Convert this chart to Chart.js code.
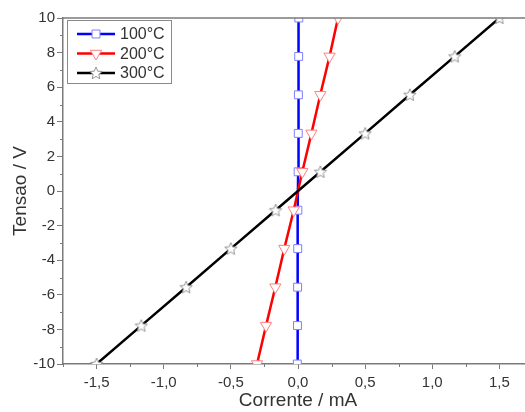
<!DOCTYPE html>
<html>
<head>
<meta charset="utf-8">
<script src="https://cdn.jsdelivr.net/npm/chart.js@4/dist/chart.umd.min.js"></script>
<style>
  html, body { margin: 0; padding: 0; background: #fff; overflow: hidden; }
  #cnt { width: 525px; height: 412px; overflow: hidden; }
</style>
</head>
<body>
<div id="cnt"><canvas id="iv_Chart" width="545" height="412"></canvas></div>
<script>
// tensao (V) e corrente (mA)
const voltage = [-10, -7.78, -5.56, -3.33, -1.11, 1.11, 3.33, 5.56, 7.78, 10];
const current100 = [-0.005, -0.004, -0.003, -0.002, -0.001, 0.001, 0.002, 0.003, 0.005, 0.006];
const current200 = [-0.305, -0.238, -0.169, -0.102, -0.032, 0.032, 0.100, 0.166, 0.235, 0.298];
const current300 = [-1.5, -1.167, -0.833, -0.5, -0.167, 0.167, 0.5, 0.833, 1.167, 1.5];
const seriesLabels = ['100°C', '200°C', '300°C'];

const xTicks = [-1.5, -1.0, -0.5, 0.0, 0.5, 1.0, 1.5];
const xMinor = [-1.75, -1.25, -0.75, -0.25, 0.25, 0.75, 1.25, 1.75];
const yTicks = [-10, -8, -6, -4, -2, 0, 2, 4, 6, 8, 10];
const yMinor = [-9, -7, -5, -3, -1, 1, 3, 5, 7, 9];

const AXIS = '#7a7a7a';
const TXT = '#333333';
const FONT = 'Arial, "Liberation Sans", sans-serif';

function pts(xs) {
  return xs.map((x, i) => ({ x: x, y: voltage[i] }));
}

// estrela de 5 pontas, contorno
function makeStar(r, color) {
  const c = document.createElement('canvas');
  const s = Math.ceil(r * 2 + 3);
  c.width = s; c.height = s;
  const g = c.getContext('2d');
  const cx = s / 2, cy = s / 2 + 0.5;
  g.beginPath();
  for (let i = 0; i < 10; i++) {
    const rr = i % 2 === 0 ? r : r * 0.45;
    const a = -Math.PI / 2 + i * Math.PI / 5;
    const px = cx + rr * Math.cos(a), py = cy + rr * Math.sin(a);
    if (i === 0) g.moveTo(px, py); else g.lineTo(px, py);
  }
  g.closePath();
  g.fillStyle = '#fff';
  g.fill();
  g.strokeStyle = color;
  g.lineWidth = 0.9;
  g.stroke();
  return c;
}
const starImg = makeStar(6.5, '#8a8a8a');

const minorTicks = {
  id: 'minorTicks',
  afterDraw(chart) {
    const ctx = chart.ctx, a = chart.chartArea;
    const xs = chart.scales.x, ys = chart.scales.y;
    ctx.save();
    ctx.strokeStyle = AXIS;
    ctx.lineWidth = 1;
    ctx.beginPath();
    xMinor.forEach(v => {
      const px = Math.round(xs.getPixelForValue(v)) + 0.5;
      ctx.moveTo(px, a.bottom); ctx.lineTo(px, a.bottom + 3);
    });
    yMinor.forEach(v => {
      const py = Math.round(ys.getPixelForValue(v)) + 0.5;
      ctx.moveTo(a.left, py); ctx.lineTo(a.left - 3, py);
    });
    ctx.stroke();
    // linha do topo
    ctx.lineWidth = 1.5;
    ctx.beginPath();
    ctx.moveTo(a.left, a.top); ctx.lineTo(a.right, a.top);
    ctx.stroke();
    ctx.restore();
  }
};

const boxLegend = {
  id: 'boxLegend',
  afterDraw(chart) {
    const ctx = chart.ctx, a = chart.chartArea;
    const x0 = a.left + 4, y0 = a.top + 2, w = 104, h = 63;
    ctx.save();
    ctx.fillStyle = '#fff';
    ctx.fillRect(x0, y0, w, h);
    ctx.strokeStyle = '#8a8a8a';
    ctx.lineWidth = 1;
    ctx.strokeRect(x0 + 0.5, y0 + 0.5, w, h);
    chart.data.datasets.forEach((ds, i) => {
      const cy = y0 + 14 + i * 19.5;
      ctx.strokeStyle = ds.borderColor;
      ctx.lineWidth = 2.5;
      ctx.beginPath();
      ctx.moveTo(x0 + 10, cy); ctx.lineTo(x0 + 48, cy);
      ctx.stroke();
      ctx.fillStyle = '#fff';
      ctx.strokeStyle = ds.pointBorderColor;
      ctx.lineWidth = ds.pointBorderWidth;
      Chart.helpers.drawPoint(ctx, {
        pointStyle: ds.pointStyle,
        radius: ds.pointRadius,
        rotation: ds.pointRotation || 0,
        borderWidth: ds.pointBorderWidth
      }, x0 + 29, cy);
      ctx.fillStyle = TXT;
      ctx.font = '16px ' + FONT;
      ctx.textBaseline = 'middle';
      ctx.fillText(ds.label, x0 + 53, cy + 1);
    });
    ctx.restore();
  }
};

const ctx_iv = document.getElementById('iv_Chart').getContext('2d');
const myChartIV = new Chart(ctx_iv, {
  type: 'scatter',
  data: {
    datasets: [{
      label: seriesLabels[0],
      data: pts(current100),
      showLine: true,
      borderColor: '#0000ff',
      borderWidth: 2.5,
      pointStyle: 'rect',
      pointRadius: 5.6,
      pointBorderWidth: 1,
      pointBorderColor: '#7f7fff',
      pointBackgroundColor: '#fff',
      clip: 0,
      order: 2
    }, {
      label: seriesLabels[1],
      data: pts(current200),
      showLine: true,
      borderColor: '#ff0000',
      borderWidth: 2.5,
      pointStyle: 'triangle',
      pointRotation: 180,
      pointRadius: 6.5,
      pointBorderWidth: 1,
      pointBorderColor: '#ff7f7f',
      pointBackgroundColor: '#fff',
      clip: 0,
      order: 1
    }, {
      label: seriesLabels[2],
      data: pts(current300),
      showLine: true,
      borderColor: '#000000',
      borderWidth: 2.5,
      pointStyle: starImg,
      pointRadius: 6,
      pointBorderWidth: 1,
      pointBorderColor: '#8a8a8a',
      pointBackgroundColor: '#fff',
      clip: 0,
      order: 0
    }]
  },
  options: {
    responsive: false,
    animation: false,
    events: [],
    layout: { padding: { left: 9, top: 18, right: 12, bottom: 0 } },
    plugins: { legend: { display: false }, tooltip: { enabled: false } },
    scales: {
      x: {
        type: 'linear',
        min: -1.75,
        max: 1.75,
        afterBuildTicks: (s) => { s.ticks = xTicks.map(v => ({ value: v })); },
        afterFit: (s) => { s.height = 48; },
        ticks: {
          color: TXT,
          font: { family: FONT, size: 15 },
          padding: 5,
          maxRotation: 0,
          callback: (v) => v.toFixed(1).replace('.', ',')
        },
        grid: { drawOnChartArea: false, tickLength: 5, tickColor: AXIS, tickWidth: 1 },
        border: { color: AXIS, width: 1.5 },
        title: {
          display: true,
          text: 'Corrente / mA',
          color: TXT,
          font: { family: FONT, size: 19 },
          padding: { top: 2, bottom: 0 }
        }
      },
      y: {
        type: 'linear',
        min: -10,
        max: 10,
        afterBuildTicks: (s) => { s.ticks = yTicks.map(v => ({ value: v })); },
        afterFit: (s) => { s.width = 54; },
        ticks: {
          color: TXT,
          font: { family: FONT, size: 15 },
          padding: 2
        },
        grid: { drawOnChartArea: false, tickLength: 6, tickColor: AXIS, tickWidth: 1 },
        border: { color: AXIS, width: 1.5 },
        title: {
          display: true,
          text: 'Tensao / V',
          color: TXT,
          font: { family: FONT, size: 19 },
          padding: { top: 0, bottom: 0 }
        }
      }
    }
  },
  plugins: [minorTicks, boxLegend]
});
</script>
</body>
</html>
